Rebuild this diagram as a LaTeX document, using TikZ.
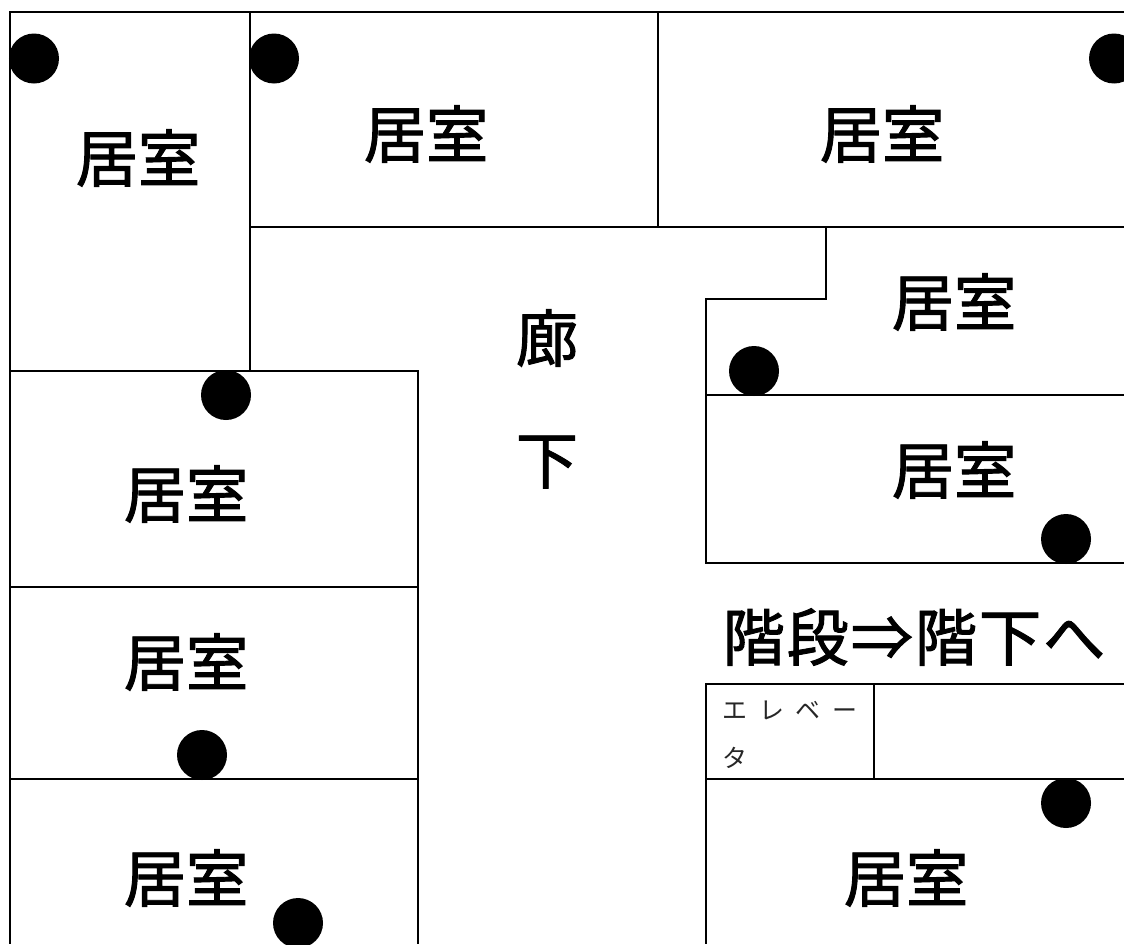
\documentclass[tikz,border=0pt]{standalone}
\usepackage{fontspec}
\newfontfamily\cjk[FakeBold=1.5]{Noto Sans CJK JP}
\newfontfamily\cjkthin{Noto Sans CJK JP}
\tikzset{
 wall/.style={draw=black,line width=0.017cm},
 dot/.style={circle,fill=black,draw=none,minimum size=0.5cm,inner sep=0pt},
 big/.style={font=\cjk\fontsize{17.7pt}{17.7pt}\selectfont,inner sep=0pt,text=black},
 stair/.style={font=\cjk\fontsize{17.7pt}{17.7pt}\selectfont,inner sep=0pt,text=black,anchor=west},
 tiny/.style={font=\cjkthin\fontsize{7.1pt}{7.1pt}\selectfont,inner sep=0pt,anchor=west,text=black!85}
}
\begin{document}
\begin{tikzpicture}[x=1cm,y=1cm]
\useasboundingbox (0,0) rectangle (11.24,-9.44);
\fill[white] (0,0) rectangle (11.24,-9.44);
\draw[wall] (11.24,-0.12) -- (0.1,-0.12) -- (0.1,-9.44);
\draw[wall] (2.5,-0.12) -- (2.5,-3.71);
\draw[wall] (6.58,-0.12) -- (6.58,-2.27);
\draw[wall] (2.5,-2.27) -- (11.24,-2.27);
\draw[wall] (0.1,-3.71) -- (4.18,-3.71) -- (4.18,-9.44);
\draw[wall] (0.1,-5.87) -- (4.18,-5.87);
\draw[wall] (0.1,-7.79) -- (4.18,-7.79);
\draw[wall] (8.26,-2.27) -- (8.26,-2.99) -- (7.06,-2.99) -- (7.06,-5.63) -- (11.24,-5.63);
\draw[wall] (7.06,-3.95) -- (11.24,-3.95);
\draw[wall] (11.24,-6.84) -- (7.06,-6.84) -- (7.06,-9.44);
\draw[wall] (7.06,-7.79) -- (11.24,-7.79);
\draw[wall] (8.74,-6.84) -- (8.74,-7.79);
\foreach \n/\x/\y in {a/0.34/0.585,b/2.74/0.585,c/11.14/0.585,d/2.26/3.95,e/7.54/3.71,f/10.66/5.39,g/2.02/7.55,h/10.66/8.03,i/2.98/9.23}
  \node[dot] (\n) at (\x,-\y) {};
\foreach \n/\x/\y in {r1/1.38/1.58,r2/4.26/1.34,r3/8.82/1.34,r4/9.54/3.02,r5/9.54/4.7,r6/1.86/4.94,r7/1.86/6.62,r8/1.86/8.78,r9/9.06/8.78}
  \node[big] (\n) at (\x,-\y) {居室};
\node[big] (k1) at (5.47,-3.38) {廊};
\node[big] (k2) at (5.47,-4.62) {下};
\node[stair] (st) at (7.22,-6.37) {階\hspace{0.03em}段\hspace{0.03em}⇒\hspace{0.03em}階\hspace{0.03em}下\hspace{0.03em}へ};
\node[tiny] (e1) at (7.22,-7.1) {エ\hspace{0.46em}レ\hspace{0.46em}ベ\hspace{0.46em}ー};
\node[tiny] (e2) at (7.22,-7.58) {タ};
\end{tikzpicture}
\end{document}
